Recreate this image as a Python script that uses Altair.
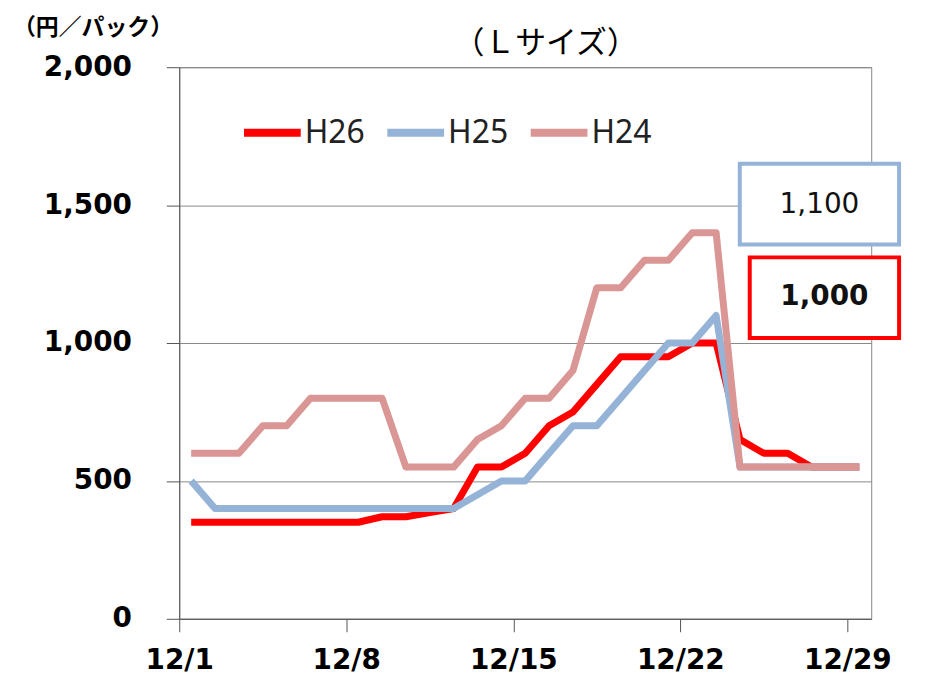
import altair as alt
import pandas as pd

# ---- data ----
days = list(range(1, 30))  # 12/1 .. 12/29
h26 = [350, 350, 350, 350, 350, 350, 350, 350, 370, 370, 385, 400, 550, 550, 600,
       700, 750, 850, 950, 950, 950, 1000, 1000, 650, 600, 600, 550, 550, 550]
h25 = [500, 400, 400, 400, 400, 400, 400, 400, 400, 400, 400, 400, 450, 500, 500,
       600, 700, 700, 800, 900, 1000, 1000, 1100, 550, 550, 550, 550, 550, 550]
h24 = [600, 600, 600, 700, 700, 800, 800, 800, 800, 550, 550, 550, 650, 700, 800,
       800, 900, 1200, 1200, 1300, 1300, 1400, 1400, 550, 550, 550, 550, 550, 550]
series_names = ["H26", "H25", "H24"]
series_colors = ["#FF0000", "#95B3D7", "#D99694"]
tick_days = [1, 8, 15, 22, 29]
y_ticks = [0, 500, 1000, 1500, 2000]
callout_series = ["H25", "H26"]
callout_values = [1100, 1000]
chart_title = "（Ｌサイズ）"
unit_label = "（円／パック）"

rows = []
for name, vals in zip(series_names, [h26, h25, h24]):
    for d, v in zip(days, vals):
        rows.append({"series": name, "day": d, "price": v})
df = pd.DataFrame(rows)

callouts = pd.DataFrame({
    "series": callout_series,
    "label": [f"{v:,}" for v in callout_values],
})
texts = pd.DataFrame({"kind": ["title", "unit"], "text": [chart_title, unit_label]})

x_enc = alt.X(
    "t:T",
    scale=alt.Scale(domain=[alt.DateTime(year=2014, month=12, date=1),
                            alt.DateTime(year=2014, month=12, date=30)]),
    axis=alt.Axis(
        values=[alt.DateTime(year=2014, month=12, date=d) for d in tick_days],
        labelExpr="(month(datum.value)+1) + '/' + date(datum.value)",
        title=None, grid=False, tickSize=13, tickColor="#555", domainColor="#555",
        labelFont="DejaVu Sans", labelFontSize=28, labelFontWeight="bold",
        labelColor="#000", labelPadding=15, labelFlush=False,
    ),
)
y_enc = alt.Y(
    "price:Q",
    scale=alt.Scale(domain=[0, 2000]),
    axis=alt.Axis(
        values=y_ticks, format=",d", grid=True, gridColor="#888",
        tickSize=13, tickColor="#555", domainColor="#555",
        labelFont="DejaVu Sans", labelFontSize=28, labelFontWeight="bold",
        labelColor="#000", labelPadding=35, title=None,
    ),
)
color_enc = alt.Color(
    "series:N",
    scale=alt.Scale(domain=series_names, range=series_colors),
    legend=alt.Legend(
        title=None, orient="none", direction="horizontal",
        legendX=61, legendY=33, padding=0,
        symbolType="stroke", symbolSize=3249, symbolStrokeWidth=8,
        labelFont="Noto Sans", labelFontSize=32, labelColor="#222",
        labelOffset=0, columnPadding=6,
    ),
)

base = alt.Chart(df).transform_calculate(t="datetime(2014, 11, datum.day, 12)")
lines = [
    base.transform_filter(alt.datum.series == name)
    .mark_line(strokeWidth=7, strokeJoin="round")
    .encode(x=x_enc, y=y_enc, color=color_enc)
    for name in series_names
]

cb = alt.Chart(callouts)
box1 = cb.transform_filter(alt.datum.series == "H25").mark_rect(
    fill="white", stroke="#95B3D7", strokeWidth=4
).encode(x=alt.value(563), x2=alt.value(723), y=alt.value(97), y2=alt.value(178))
txt1 = cb.transform_filter(alt.datum.series == "H25").mark_text(
    font="DejaVu Sans", fontSize=28, color="#111", align="center", baseline="middle"
).encode(x=alt.value(643), y=alt.value(138), text="label:N")
box2 = cb.transform_filter(alt.datum.series == "H26").mark_rect(
    fill="white", stroke="#FF0000", strokeWidth=4
).encode(x=alt.value(573), x2=alt.value(723), y=alt.value(191), y2=alt.value(272))
txt2 = cb.transform_filter(alt.datum.series == "H26").mark_text(
    font="DejaVu Sans", fontSize=28, fontWeight="bold", color="#111",
    align="center", baseline="middle"
).encode(x=alt.value(648), y=alt.value(231), text="label:N")

tb = alt.Chart(texts)
title_mark = tb.transform_filter(alt.datum.kind == "title").mark_text(
    font="Noto Sans CJK JP", fontSize=31, color="#000", align="center",
    baseline="middle"
).encode(x=alt.value(368), y=alt.value(-23), text="text:N")
unit_mark = tb.transform_filter(alt.datum.kind == "unit").mark_text(
    font="Noto Sans CJK JP", fontSize=23, fontWeight="bold", color="#000",
    align="left", baseline="middle"
).encode(x=alt.value(-167), y=alt.value(-39), text="text:N")

chart = alt.layer(*lines, box1, txt1, box2, txt2, title_mark, unit_mark).properties(
    width=695, height=554,
    padding={"left": 172, "top": 58, "right": 50, "bottom": 57},
    autosize=alt.AutoSizeParams(type="none"),
).configure_view(stroke="#888", strokeWidth=1)

chart.save("out.html", embed_options={"renderer": "svg", "actions": False})
